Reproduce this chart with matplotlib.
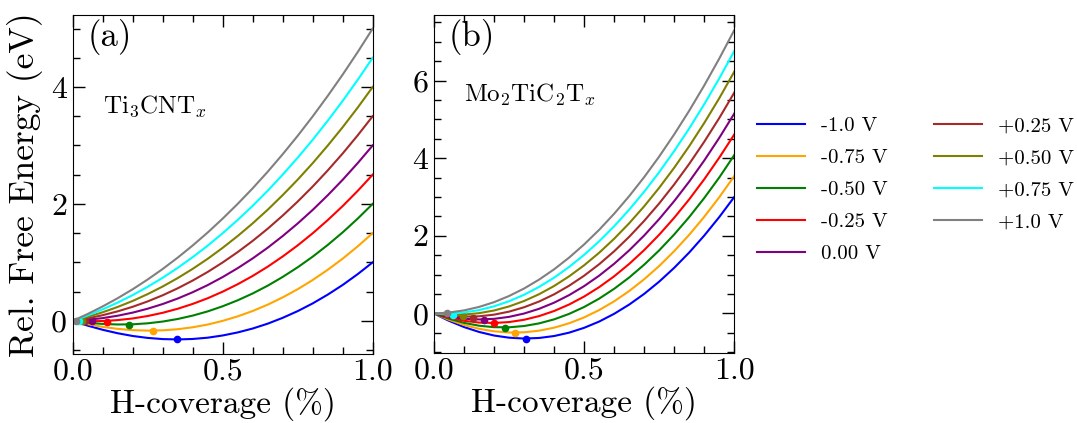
import matplotlib
matplotlib.use('Agg')
import matplotlib.pyplot as plt
from matplotlib.ticker import MultipleLocator

# General plot parameters (LaTeX-like look)
plt.rcParams['font.family'] = 'cmr10'
plt.rcParams['mathtext.fontset'] = 'cm'
plt.rcParams['axes.unicode_minus'] = False
plt.rcParams['axes.formatter.use_mathtext'] = True

# Data
coverage = [0, 0.02, 0.05, 0.1, 0.15, 0.2, 0.25, 0.3, 0.35, 0.4, 0.45, 0.5,
            0.55, 0.6, 0.65, 0.7, 0.75, 0.8, 0.85, 0.9, 0.95, 1.0]
labels = ['-1.0 V', '-0.75 V', '-0.50 V', '-0.25 V', '0.00 V',
          '+0.25 V', '+0.50 V', '+0.75 V', '+1.0 V']
colors = ['blue', 'orange', 'green', 'red', 'purple', 'brown', 'olive', 'cyan', 'gray']

# Ti3CNTx, one list per potential
ti3cn = [
    [0, -0.035, -0.084, -0.155, -0.214, -0.261, -0.294, -0.314, -0.320, -0.312, -0.290, -0.252, -0.200, -0.133, -0.050, 0.050, 0.165, 0.297, 0.447, 0.613, 0.798, 1.0],
    [0, -0.025, -0.059, -0.105, -0.139, -0.161, -0.169, -0.164, -0.145, -0.112, -0.065, -0.002, 0.075, 0.167, 0.275, 0.400, 0.540, 0.697, 0.872, 1.063, 1.273, 1.5],
    [0, -0.015, -0.034, -0.055, -0.064, -0.061, -0.044, -0.014, 0.030, 0.088, 0.160, 0.248, 0.350, 0.467, 0.600, 0.750, 0.915, 1.097, 1.297, 1.513, 1.748, 2.0],
    [0, -0.005, -0.009, -0.005, 0.011, 0.039, 0.081, 0.136, 0.205, 0.288, 0.385, 0.498, 0.625, 0.767, 0.925, 1.100, 1.290, 1.497, 1.722, 1.963, 2.223, 2.5],
    [0, 0.005, 0.016, 0.045, 0.086, 0.139, 0.206, 0.286, 0.380, 0.488, 0.610, 0.748, 0.900, 1.067, 1.250, 1.450, 1.665, 1.897, 2.147, 2.413, 2.698, 3.0],
    [0, 0.015, 0.041, 0.095, 0.161, 0.239, 0.331, 0.436, 0.555, 0.688, 0.835, 0.998, 1.175, 1.367, 1.575, 1.800, 2.040, 2.297, 2.572, 2.863, 3.173, 3.5],
    [0, 0.025, 0.066, 0.145, 0.236, 0.339, 0.456, 0.586, 0.730, 0.888, 1.060, 1.248, 1.450, 1.667, 1.900, 2.150, 2.415, 2.697, 2.997, 3.313, 3.648, 4.0],
    [0, 0.035, 0.091, 0.195, 0.311, 0.439, 0.581, 0.736, 0.905, 1.088, 1.285, 1.498, 1.725, 1.967, 2.225, 2.500, 2.790, 3.097, 3.422, 3.763, 4.123, 4.5],
    [0, 0.045, 0.116, 0.245, 0.386, 0.539, 0.706, 0.886, 1.080, 1.288, 1.510, 1.748, 2.000, 2.267, 2.550, 2.850, 3.165, 3.497, 3.847, 4.213, 4.598, 5.0],
]
ti3cn_min_x = [0.347, 0.267, 0.189, 0.113, 0.063, 0.04, 0.03, 0.02, 0.012]
ti3cn_min_y = [-0.32, -0.17, -0.065, -0.02, -0.005, 0.0, 0.0, 0.0, 0.0]

# Mo2TiC2Tx, one list per potential
mo2tic2 = [
    [0, -0.082, -0.194, -0.354, -0.480, -0.572, -0.628, -0.650, -0.635, -0.585, -0.498, -0.373, -0.212, -0.012, 0.226, 0.502, 0.818, 1.174, 1.569, 2.005, 2.482, 3.0],
    [0, -0.071, -0.167, -0.300, -0.399, -0.464, -0.494, -0.489, -0.447, -0.370, -0.256, -0.105, 0.084, 0.310, 0.575, 0.879, 1.221, 1.604, 2.026, 2.489, 2.993, 3.54],
    [0, -0.060, -0.140, -0.246, -0.319, -0.357, -0.360, -0.327, -0.259, -0.155, -0.014, 0.164, 0.379, 0.633, 0.924, 1.255, 1.624, 2.034, 2.483, 2.973, 3.503, 4.08],
    [0, -0.049, -0.113, -0.193, -0.238, -0.249, -0.225, -0.166, -0.071, 0.060, 0.228, 0.433, 0.675, 0.955, 1.274, 1.631, 2.027, 2.464, 2.940, 3.456, 4.014, 4.61],
    [0, -0.039, -0.086, -0.139, -0.158, -0.142, -0.091, -0.005, 0.117, 0.275, 0.470, 0.702, 0.971, 1.278, 1.623, 2.007, 2.431, 2.894, 3.397, 3.940, 4.524, 5.15],
    [0, -0.028, -0.059, -0.085, -0.077, -0.034, 0.044, 0.157, 0.305, 0.490, 0.712, 0.970, 1.266, 1.600, 1.973, 2.384, 2.834, 3.324, 3.853, 4.424, 5.035, 5.69],
    [0, -0.017, -0.033, -0.031, 0.004, 0.073, 0.178, 0.318, 0.493, 0.705, 0.954, 1.239, 1.562, 1.923, 2.322, 2.760, 3.237, 3.754, 4.310, 4.908, 5.545, 6.23],
    [0, -0.006, -0.006, 0.022, 0.084, 0.181, 0.312, 0.479, 0.682, 0.920, 1.196, 1.508, 1.857, 2.245, 2.672, 3.136, 3.640, 4.184, 4.767, 5.391, 6.056, 6.76],
    [0, 0.005, 0.021, 0.076, 0.165, 0.288, 0.447, 0.640, 0.870, 1.135, 1.437, 1.777, 2.153, 2.568, 3.021, 3.512, 4.043, 4.614, 5.224, 5.875, 6.567, 7.3],
]
mo2tic2_min_x = [0.305, 0.27, 0.235, 0.20, 0.166, 0.13, 0.096, 0.062, 0.042]
mo2tic2_min_y = [-0.65, -0.50, -0.37, -0.26, -0.18, -0.11, -0.07, -0.035, 0.0]


# Style one panel: ticks on all sides, pointing inwards
def style_axis(ax, ylim, panel, name, name_y):
    ax.set_xlim(0, 1)
    ax.set_ylim(*ylim)
    ax.xaxis.set_major_locator(MultipleLocator(0.5))
    ax.xaxis.set_minor_locator(MultipleLocator(0.1))
    ax.yaxis.set_major_locator(MultipleLocator(2))
    ax.yaxis.set_minor_locator(MultipleLocator(0.5))
    ax.xaxis.set_major_formatter(lambda v, pos: f'{v:.1f}')
    ax.yaxis.set_major_formatter(lambda v, pos: f'{v:.0f}')
    ax.tick_params(which='both', direction='in', top=True, right=True, labelsize=23, width=1)
    ax.tick_params(which='major', length=8.5)
    ax.tick_params(which='minor', length=5)
    ax.tick_params(axis='x', pad=3)
    ax.tick_params(axis='y', pad=4)
    ax.set_xlabel('H-coverage (%)', fontsize=24, labelpad=1)
    ax.text(0.05, 0.935, panel, transform=ax.transAxes, fontsize=25, va='center')
    ax.text(0.1, name_y, name, transform=ax.transAxes, fontsize=18, va='center')


fig = plt.figure(figsize=(10.77, 4.23), dpi=100)
ax1 = fig.add_axes([0.0675, 0.163, 0.2786, 0.8014])
ax2 = fig.add_axes([0.403, 0.1648, 0.2788, 0.7998])

for i in range(len(labels)):
    ax1.plot(coverage, ti3cn[i], color=colors[i], lw=1.5, label=labels[i])
    ax1.plot(ti3cn_min_x[i], ti3cn_min_y[i], 'o', color=colors[i], ms=4.5)
    ax2.plot(coverage, mo2tic2[i], color=colors[i], lw=1.5)
    ax2.plot(mo2tic2_min_x[i], mo2tic2_min_y[i], 'o', color=colors[i], ms=4.5)

style_axis(ax1, (-0.57, 5.23), '(a)', r'Ti$_3$CNT$_x$', 0.73)
style_axis(ax2, (-1.03, 7.69), '(b)', r'Mo$_2$TiC$_2$T$_x$', 0.763)
ax1.set_ylabel('Rel. Free Energy (eV)', fontsize=25.5, labelpad=6)

# Legend on the right, two columns
fig.legend(*ax1.get_legend_handles_labels(), loc='center left', bbox_to_anchor=(0.7026, 0.551),
           ncol=2, frameon=False, fontsize=15, handlelength=2.3, handletextpad=0.8,
           borderpad=0, borderaxespad=0, columnspacing=2.2, labelspacing=0.64)

fig.savefig('out.png', dpi=100)
